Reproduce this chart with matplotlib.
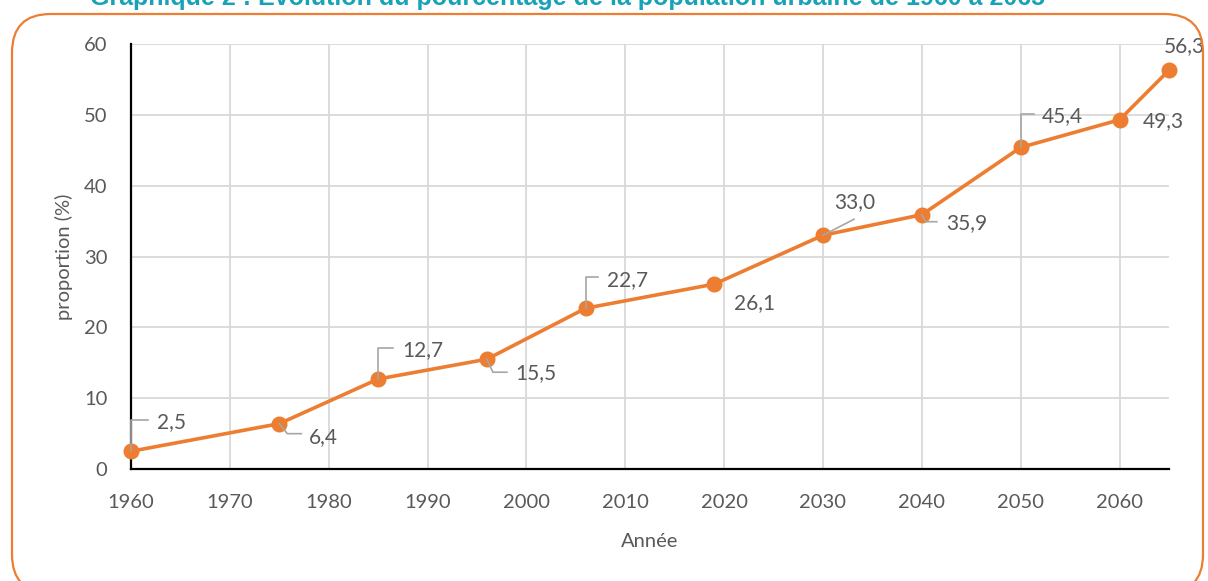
import matplotlib
matplotlib.use("Agg")
import matplotlib.pyplot as plt
from matplotlib.patches import FancyBboxPatch

annees = [1960, 1975, 1985, 1996, 2006, 2019, 2030, 2040, 2050, 2060, 2065]
proportion = [2.5, 6.4, 12.7, 15.5, 22.7, 26.1, 33.0, 35.9, 45.4, 49.3, 56.3]
etiquettes = ["2,5", "6,4", "12,7", "15,5", "22,7", "26,1", "33,0", "35,9", "45,4", "49,3", "56,3"]
x_ticks = [1960, 1970, 1980, 1990, 2000, 2010, 2020, 2030, 2040, 2050, 2060]
y_ticks = [0, 10, 20, 30, 40, 50, 60]
titre = "Graphique 2 : Evolution du pourcentage de la population urbaine de 1960 à 2065"

plt.rcParams['font.family'] = ['Lato', 'DejaVu Sans']
gris = '#595959'
orange = '#ED7D31'

fig = plt.figure(figsize=(12.08, 5.81), dpi=100)
W, H = 1208, 581

# cadre arrondi orange
bas = -12 / H
cadre = FancyBboxPatch((12 / W, bas), 1191 / W, 1 - 14 / H - bas,
                       boxstyle="round,pad=0,rounding_size=0.032",
                       transform=fig.transFigure, fill=False,
                       edgecolor=orange, linewidth=1.6,
                       mutation_aspect=W / H)
fig.patches.append(cadre)

fig.text(568 / W, 1 - 5 / H, titre, ha='center', va='baseline',
         fontsize=18, fontweight='bold', color='#17A2B8',
         family=['Liberation Sans'])

ax = fig.add_axes([131 / W, 1 - 469 / H, (1169 - 131) / W, (469 - 44) / H])
ax.plot(annees, proportion, color=orange, linewidth=2.6, marker='o',
        markersize=10.5, zorder=3, clip_on=False)

ax.set_xlim(1960, 2065)
ax.set_ylim(0, 60)
ax.set_xticks(x_ticks)
ax.set_yticks(y_ticks)
ax.grid(True, color='#D9D9D9', linewidth=1.3)
ax.set_axisbelow(True)
for s in ['top', 'right']:
    ax.spines[s].set_visible(False)
for s in ['left', 'bottom']:
    ax.spines[s].set_linewidth(1.6)
    ax.spines[s].set_color('black')
ax.tick_params(axis='x', length=0, labelsize=14.5, colors=gris, pad=18)
ax.tick_params(axis='y', length=0, labelsize=14.5, colors=gris, pad=17)
ax.set_xlabel("Année", fontsize=14.5, color=gris, labelpad=16)
ax.set_ylabel("proportion (%)", fontsize=14.5, color=gris, labelpad=7.5)

# étiquettes : décalage (bord gauche, centre vertical) en pixels depuis le point
decalages = [(26, 29), (30, -13), (24, 29), (28, -14), (21, 28), (20, -19),
             (11, 33), (24, -8), (21, 31), (23, -1), (-5, 24)]
# traits de rappel (sommets en pixels depuis le point)
rappels = [[(0, 0), (0, 31), (17, 31)],
           [(0, 0), (8, -10), (22, -10)],
           [(0, 0), (0, 31), (15, 31)],
           [(0, 0), (6, -13), (20, -13)],
           [(0, 0), (0, 31), (12, 31)],
           None,
           [(0, 0), (31, 16)],
           [(0, 0), (4, -7), (15, -7)],
           [(0, 0), (0, 33), (13, 33)],
           None,
           None]

for x, y, txt, (dx, dy), r in zip(annees, proportion, etiquettes, decalages, rappels):
    ax.annotate(txt, (x, y), xytext=(dx, dy), textcoords='offset pixels',
                fontsize=15, color=gris, ha='left', va='center',
                annotation_clip=False)
    if r is None:
        continue
    px, py = ax.transData.transform((x, y))
    pts = ax.transData.inverted().transform([(px + a, py + b) for a, b in r])
    ax.plot(pts[:, 0], pts[:, 1], color='#A6A6A6', linewidth=1.2,
            zorder=4, clip_on=False)

fig.savefig("out.png", dpi=100)
